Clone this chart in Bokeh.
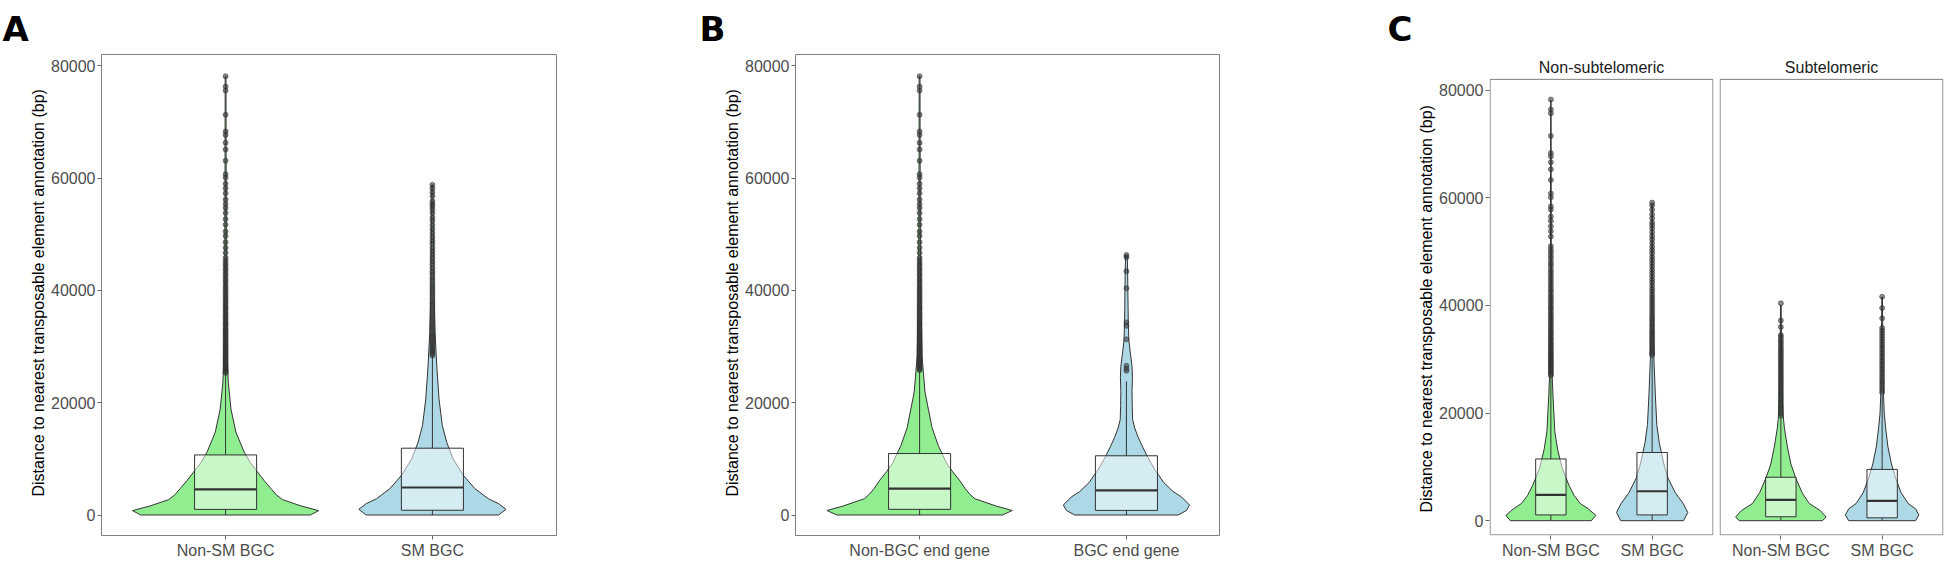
from bokeh.plotting import figure
from bokeh.layouts import row
from bokeh.models import FixedTicker, Range1d, Title
from bokeh.core.properties import value
from bokeh.embed import file_html
from bokeh.resources import INLINE

# ---------------- data ----------------
Y_TICKS = [0, 20000, 40000, 60000, 80000]
Y_LABEL = "Distance to nearest transposable element annotation (bp)"

a_cats = ["Non-SM BGC", "SM BGC"]
b_cats = ["Non-BGC end gene", "BGC end gene"]
c_cats = ["Non-SM BGC", "SM BGC"]
c_facets = ["Non-subtelomeric", "Subtelomeric"]
panel_letters = ["A", "B", "C"]

# box stats: q1, median, q3, whisker low, whisker high
a1_box = [1000, 4550, 10700, 0, 25100]
a2_box = [850, 4900, 11900, 0, 28300]
b1_box = [1010, 4690, 10950, 0, 25600]
b2_box = [820, 4370, 10550, 0, 23800]
c1a_box = [1070, 4800, 11470, 0, 26700]
c1b_box = [1070, 5470, 12670, 0, 30500]
c2a_box = [730, 3870, 8070, 0, 19300]
c2b_box = [530, 3670, 9530, 0, 23300]

# violin outlines: y values and half widths (category units)
a1_vy = [0, 780, 1610, 2730, 3600, 4680, 6100, 7640, 9300, 11190, 14740, 18880, 23660, 29500, 40000, 55000, 78150]
a1_vw = [0.41, 0.45, 0.365, 0.276, 0.245, 0.22, 0.187, 0.155, 0.12, 0.09, 0.05, 0.026, 0.013, 0.0065, 0.004, 0.003, 0.002]
a2_vy = [0, 1010, 2020, 2910, 4680, 7040, 10000, 12970, 15920, 20650, 26560, 32500, 38400, 48000, 58800]
a2_vw = [0.32, 0.356, 0.32, 0.27, 0.206, 0.15, 0.10, 0.069, 0.048, 0.032, 0.021, 0.013, 0.008, 0.005, 0.003]
b1_vy = [0, 800, 1600, 2900, 3700, 4700, 6080, 7700, 9250, 12400, 15580, 21900, 28200, 40000, 55000, 78150]
b1_vw = [0.40, 0.448, 0.37, 0.267, 0.243, 0.22, 0.195, 0.16, 0.13, 0.09, 0.06, 0.026, 0.012, 0.005, 0.003, 0.002]
b2_vy = [0, 800, 1770, 3200, 4200, 5800, 7000, 8000, 10500, 12000, 14000, 15500, 17000, 19500, 22000, 24500, 26500, 28500, 31000, 34000, 37000, 40000, 43000, 46300]
b2_vw = [0.25, 0.29, 0.305, 0.267, 0.225, 0.18, 0.158, 0.138, 0.10, 0.08, 0.055, 0.04, 0.03, 0.028, 0.027, 0.029, 0.027, 0.02, 0.012, 0.009, 0.008, 0.007, 0.006, 0.004]
c1a_vy = [0, 1000, 2200, 3200, 4700, 6530, 9870, 13200, 16530, 23200, 26500, 35000, 50000, 78150]
c1a_vw = [0.40, 0.444, 0.37, 0.29, 0.23, 0.18, 0.11, 0.067, 0.039, 0.021, 0.014, 0.006, 0.004, 0.002]
c1b_vy = [0, 1530, 3200, 5200, 7870, 10530, 14530, 17870, 23200, 26530, 29870, 40000, 50000, 58800]
c1b_vw = [0.31, 0.352, 0.306, 0.229, 0.158, 0.116, 0.07, 0.046, 0.032, 0.025, 0.018, 0.008, 0.005, 0.003]
c2a_vy = [0, 670, 1870, 3200, 5200, 7870, 10530, 13870, 17200, 19870, 23200, 30000, 40070]
c2a_vw = [0.41, 0.447, 0.39, 0.28, 0.21, 0.148, 0.099, 0.063, 0.035, 0.021, 0.014, 0.007, 0.003]
c2b_vy = [0, 1070, 2200, 3200, 5200, 7870, 10530, 13870, 17200, 19870, 23200, 30000, 41600]
c2b_vw = [0.33, 0.363, 0.33, 0.257, 0.187, 0.134, 0.092, 0.056, 0.035, 0.021, 0.014, 0.008, 0.003]

# outliers
a1_out = [78150, 76300, 75600, 71300, 68300, 67700, 66300, 65100, 63100, 60700, 60100, 59000, 58200,
          57300, 56200, 55400, 54700, 53800, 52700, 51700, 50500, 49700, 48600, 47600, 46700, 45800,
          45300, 44800, 44400, 43900, 43500, 43000, 42600, 42100, 41700, 41300, 40800, 40400, 40000,
          39600, 39200, 38800, 38400, 38000, 37600, 37200, 36800, 36500, 36100, 35700, 35400, 35000,
          34700, 34300, 34000, 33700, 33300, 33000, 32700, 32400, 32100, 31800, 31500, 31200, 30900,
          30600, 30300, 30000, 29800, 29500, 29200, 29000, 28700, 28400, 28200, 27900, 27700, 27400,
          27200, 26900, 26700, 26400, 26200, 26000, 25700, 25500, 25300]
a2_out = [58800, 58200, 57500, 56800, 55900, 55400, 55000, 54400, 53800, 53000, 52400, 51600, 50900,
          50200, 49500, 48900, 48300, 47600, 47000, 46400, 45800, 45200, 44600, 44000, 43400, 42900,
          42300, 41800, 41200, 40700, 40200, 39700, 39200, 38700, 38200, 37700, 37300, 36800, 36400,
          35900, 35500, 35100, 34700, 34300, 33900, 33500, 33100, 32700, 32300, 32000, 31600, 31300,
          30900, 30600, 30300, 29900, 29600, 29300, 29000, 28700, 28400]
b1_out = [78150, 76300, 75600, 71300, 68300, 67700, 66300, 65100, 63100, 60700, 60100, 59000, 58200,
          57300, 56200, 55400, 54700, 53800, 52700, 51700, 50500, 49700, 48600, 47600, 46700, 45800,
          45300, 44800, 44400, 43900, 43500, 43000, 42600, 42100, 41700, 41300, 40800, 40400, 40000,
          39600, 39200, 38800, 38400, 38000, 37600, 37200, 36800, 36500, 36100, 35700, 35400, 35000,
          34700, 34300, 34000, 33700, 33300, 33000, 32700, 32400, 32100, 31800, 31500, 31200, 30900,
          30600, 30300, 30000, 29800, 29500, 29200, 29000, 28700, 28400, 28200, 27900, 27700, 27400,
          27200, 26900, 26700, 26400, 26200, 26000, 25800]
b2_out = [46300, 45900, 43400, 40400, 34300, 33700, 31300, 26600, 26100, 25700]
c1a_out = [78250, 76400, 75700, 71500, 68300, 67700, 66600, 65300, 63300, 60800, 60100, 58400, 57800,
           56500, 55700, 54700, 53800, 52800, 51000, 50400, 49900, 49300, 48800, 48200, 47700, 47200,
           46600, 46100, 45600, 45100, 44600, 44100, 43600, 43100, 42700, 42200, 41700, 41300, 40800,
           40400, 39900, 39500, 39100, 38600, 38200, 37800, 37400, 37000, 36600, 36200, 35800, 35400,
           35000, 34700, 34300, 33900, 33600, 33200, 32900, 32500, 32200, 31900, 31500, 31200, 30900,
           30600, 30300, 30000, 29700, 29400, 29100, 28800, 28500, 28200, 27900, 27600, 27300, 27000]
c1b_out = [59100, 58600, 57800, 56900, 56200, 55400, 54900, 54300, 53600, 52900, 52300, 51600, 50900,
           50300, 49700, 49000, 48400, 47800, 47200, 46600, 46000, 45400, 44800, 44300, 43700, 43100,
           42600, 42000, 41500, 41000, 40500, 40000, 39500, 39000, 38500, 38000, 37500, 37100, 36600,
           36200, 35700, 35300, 34900, 34500, 34100, 33700, 33300, 32900, 32500, 32100, 31800, 31400,
           31100, 30800]
c2a_out = [40400, 37200, 36000, 34500, 34100, 33600, 33200, 32800, 32300, 31900, 31500, 31100, 30700,
           30300, 29900, 29500, 29100, 28700, 28300, 27900, 27500, 27100, 26700, 26300, 25900, 25500,
           25100, 24700, 24300, 23900, 23500, 23100, 22700, 22300, 21900, 21500, 21100, 20700, 20300,
           19900, 19500]
c2b_out = [41600, 39500, 37600, 35800, 35300, 34800, 34300, 33800, 33300, 32800, 32300, 31800, 31300,
           30800, 30300, 29800, 29300, 28800, 28300, 27800, 27300, 26800, 26300, 25800, 25300, 24800,
           24300, 23800]

# ---------------- style / layout ----------------
H = 561
TOP, BOTTOM = 54, 24
FRAME_H = H - TOP - BOTTOM               # same frame height for all figures
Y_RANGE_AB = (-3650, 82020)
X_RANGE_A = (0.4, 2.6)
X_RANGE_B = (0.4, 2.45)
C_VIS = (-2640, 82000)                   # data extent of the bordered facet panel
C_DROP = 25                              # facet panel starts this many px below frame top
C_FRAME_W = 224
FONT = "Liberation Sans"
GREEN, BLUE = "#90EE90", "#ADD8E6"
DARK = "#333333"
BORDER = "#7f7f7f"
BOX_HW = 0.15


def style_axes(p, cats):
    p.grid.visible = False
    p.background_fill_color = "white"
    p.border_fill_color = "white"
    for ax in p.xaxis + p.yaxis:
        ax.axis_line_color = None
        ax.major_tick_line_color = "#666666"
        ax.major_tick_out = 4
        ax.major_tick_in = 0
        ax.minor_tick_line_color = None
        ax.major_label_text_font = FONT
        ax.major_label_text_font_size = "16px"
        ax.major_label_text_color = "#4d4d4d"
    p.xaxis.ticker = FixedTicker(ticks=[1, 2])
    p.xaxis.major_label_overrides = {1: cats[0], 2: cats[1]}
    p.xaxis.major_label_standoff = 2
    p.yaxis.ticker = FixedTicker(ticks=Y_TICKS)
    p.yaxis.major_label_standoff = 2


def y_title(p, offset):
    # anchored at its lower end, 'offset' px above the frame bottom
    p.add_layout(Title(text=Y_LABEL, align="left", offset=offset, text_font=FONT,
                       text_font_size="16px", text_font_style="normal", text_color="black",
                       standoff=3), "left")


def letter(p, text, offset):
    p.add_layout(Title(text=text, align="left", offset=offset, text_font="DejaVu Sans",
                       text_font_size="34px", text_font_style="bold", text_color="black",
                       text_line_height=0.8, standoff=12), "above")


def fig_ab(width, left, right, cats, xr):
    p = figure(width=width, height=H, x_range=Range1d(*xr), y_range=Range1d(*Y_RANGE_AB),
               output_backend="svg", toolbar_location=None, title=None,
               min_border_left=left, min_border_right=right,
               min_border_top=TOP, min_border_bottom=BOTTOM)
    p.outline_line_color = BORDER
    p.outline_line_width = 1
    style_axes(p, cats)
    return p


def fig_c(width, left, right, cats, show_y):
    vis_px = FRAME_H - C_DROP
    per_px = (C_VIS[1] - C_VIS[0]) / vis_px
    dx = 0.6 * 2.2 / C_FRAME_W
    p = figure(width=width, height=H, x_range=Range1d(0.4 - dx, 2.6 + dx),
               y_range=Range1d(C_VIS[0] - 0.6 * per_px, C_VIS[1] + C_DROP * per_px),
               output_backend="svg", toolbar_location=None, title=None,
               min_border_left=left, min_border_right=right,
               min_border_top=TOP, min_border_bottom=BOTTOM)
    p.outline_line_color = None
    style_axes(p, cats)
    if not show_y:
        p.yaxis.visible = False
    # facet panel border
    p.quad(left=[0.4], right=[2.6], bottom=[C_VIS[0]], top=[C_VIS[1]], fill_color=None,
           line_color=BORDER, line_width=1)
    return p, per_px


def strip(p, text, per_px):
    p.text(x=[1.5], y=[C_VIS[1] + 12 * per_px], text=[text], text_align="center",
           text_baseline="middle", text_font=value(FONT), text_font_size="16px",
           text_color="#1a1a1a")


def draw_group(p, c, color, vy, vw, box, outliers):
    xs = [c - w for w in vw] + [c + w for w in reversed(vw)]
    ys = list(vy) + list(reversed(vy))
    p.patch(xs, ys, fill_color=color, line_color=DARK, line_width=1)
    q1, med, q3, wlo, whi = box
    p.segment(x0=[c, c], y0=[q3, q1], x1=[c, c], y1=[whi, wlo], line_color=DARK, line_width=1)
    p.quad(left=[c - BOX_HW], right=[c + BOX_HW], bottom=[q1], top=[q3],
           fill_color="white", fill_alpha=0.5, line_color=DARK, line_width=1)
    p.segment(x0=[c - BOX_HW], y0=[med], x1=[c + BOX_HW], y1=[med], line_color=DARK, line_width=2.2)
    p.scatter(x=[c] * len(outliers), y=outliers, size=5, fill_color=DARK, fill_alpha=0.55,
              line_color=DARK, line_alpha=0.55)


pA = fig_ab(695, 101, 139, a_cats, X_RANGE_A)
draw_group(pA, 1, GREEN, a1_vy, a1_vw, a1_box, a1_out)
draw_group(pA, 2, BLUE, a2_vy, a2_vw, a2_box, a2_out)
y_title(pA, 39)
letter(pA, panel_letters[0], -99)

pB = fig_ab(688, 100, 164, b_cats, X_RANGE_B)
draw_group(pB, 1, GREEN, b1_vy, b1_vw, b1_box, b1_out)
draw_group(pB, 2, BLUE, b2_vy, b2_vw, b2_box, b2_out)
y_title(pB, 39)
letter(pB, panel_letters[1], -96)

pC1, per_c = fig_c(333, 106, 3, c_cats, True)
draw_group(pC1, 1, GREEN, c1a_vy, c1a_vw, c1a_box, c1a_out)
draw_group(pC1, 2, BLUE, c1b_vy, c1b_vw, c1b_box, c1b_out)
strip(pC1, c_facets[0], per_c)
y_title(pC1, 23)
letter(pC1, panel_letters[2], -102)

pC2, _ = fig_c(230, 3, 3, c_cats, False)
draw_group(pC2, 1, GREEN, c2a_vy, c2a_vw, c2a_box, c2a_out)
draw_group(pC2, 2, BLUE, c2b_vy, c2b_vw, c2b_box, c2b_out)
strip(pC2, c_facets[1], per_c)

layout = row(pA, pB, pC1, pC2)
open("out.html", "w").write(file_html(layout, INLINE))
